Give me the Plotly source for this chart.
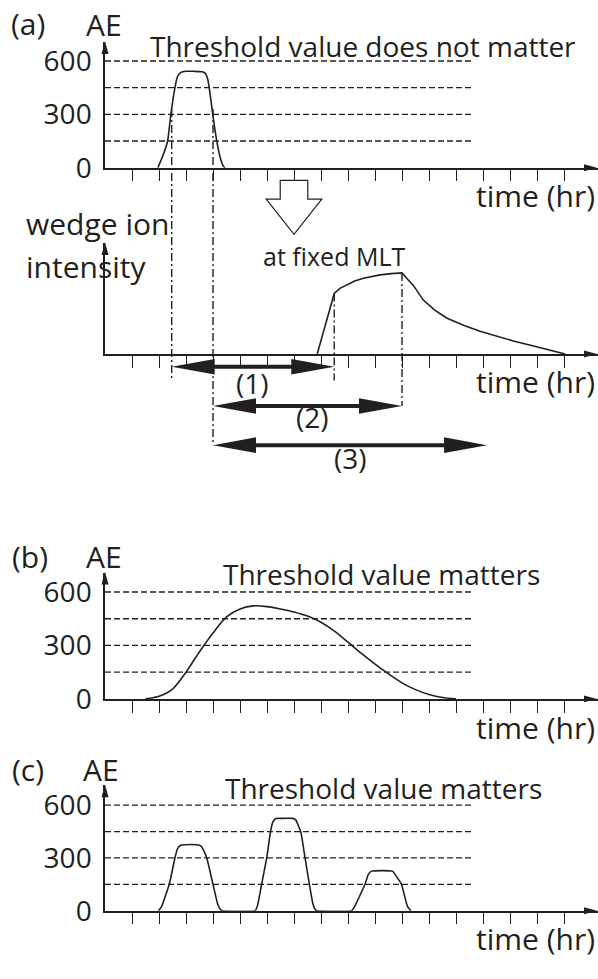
import plotly.graph_objects as go

# ---------------- data ----------------
time_ticks = list(range(1, 18))          # tick marks on every time axis (hr)
threshold_levels = [150, 300, 450, 600]  # dashed AE threshold lines
ae_tick_vals = [0, 300, 600]
threshold_end_hr = 13.57

# (a) isolated substorm AE
a_time = [1.96, 2.15, 2.32, 2.44, 2.59, 2.68, 2.80, 3.00, 3.30, 3.60, 3.72, 3.80, 3.86, 3.99, 4.14, 4.28, 4.37, 4.44]
a_ae = [0, 70, 150, 300, 450, 510, 535, 542, 542, 540, 530, 500, 450, 300, 150, 50, 12, 0]

# (a) wedge ion intensity at fixed MLT (arbitrary units)
wedge_time = [7.86, 8.49, 8.70, 8.95, 9.25, 9.57, 9.90, 10.19, 10.60, 11.00, 11.20, 11.42, 11.79, 12.20,
              12.65, 13.30, 13.89, 14.50, 15.12, 15.80, 16.36, 16.70, 17.04]
wedge_int = [0, 61.7, 67.0, 70.7, 74.5, 77.3, 79.2, 80.7, 82.0, 82.7, 76.5, 70.0, 55.0, 45.0,
             36.7, 29.0, 23.3, 18.0, 13.3, 8.7, 5.0, 2.5, 0]

# (b) long smooth AE event
b_time = [1.5, 2.0, 2.5, 3.0, 3.5, 4.0, 4.5, 5.0, 5.5, 6.0, 6.5, 7.0, 7.5, 8.0, 8.5, 9.0, 9.5,
          10.0, 10.5, 11.0, 11.5, 12.0, 12.5, 13.0]
b_ae = [0, 15, 55, 150, 265, 370, 460, 505, 522, 518, 505, 488, 465, 430, 380, 318, 255,
        195, 140, 90, 52, 25, 8, 0]

# (c) three short AE pulses
c_time = [1.98, 2.10, 2.38, 2.59, 2.68, 2.80, 2.95, 3.40, 3.55, 3.66, 3.77, 4.00, 4.17, 4.27, 4.35,
          5.56, 5.65, 5.80, 5.99, 6.13, 6.22, 6.33, 6.50, 6.95, 7.07, 7.17, 7.25, 7.41, 7.57, 7.70, 7.78, 7.86,
          9.14, 9.25, 9.63, 9.75, 9.87, 10.65, 10.75, 10.98, 11.20, 11.33]
c_ae = [0, 25, 150, 300, 350, 372, 375, 375, 368, 340, 300, 150, 40, 8, 0,
        0, 30, 150, 300, 450, 505, 524, 525, 525, 515, 480, 450, 300, 150, 40, 8, 0,
        0, 25, 150, 205, 225, 225, 205, 150, 25, 0]

# dash-dot markers: (hr, value on its panel)
onset_ae_hr, end_ae_hr = 2.47, 4.0
wedge_onset_hr, wedge_peak_hr = 8.49, 11.0
marker_ae_value = 330

# delay arrows
delay_labels = ["(1)", "(2)", "(3)"]
delay_start = [2.47, 4.0, 4.0]
delay_end = [8.49, 11.0, 14.15]

# ---------------- layout geometry ----------------
W, H = 598, 979
X0, HR = 105, 27.0           # pixel of t=0 and pixels per hour
INK = "#231F20"
FONT = "Open Sans"

panels = {
    "a": dict(ax="", base=170.0, tip=42.0, per=27.2 / 150),
    "w": dict(ax="2", base=360.0, tip=247.0, per=1.0),
    "b": dict(ax="3", base=711.7, tip=583.0, per=27.25 / 150),
    "c": dict(ax="4", base=927.7, tip=800.0, per=26.9 / 150),
}


def py(px):
    return 1 - px / H


def pxp(px):
    return px / W


def val_px(panel, v):
    p = panels[panel]
    return p["base"] - v * p["per"]


fig = go.Figure()
layout = dict(width=W, height=H, margin=dict(l=0, r=0, t=0, b=0), showlegend=False,
              paper_bgcolor="white", plot_bgcolor="rgba(0,0,0,0)")

for key, p in panels.items():
    ax = p["ax"]
    xa = dict(domain=[X0 / W, 1], range=[0, (W - X0) / HR], anchor="y" + ax,
              showline=True, linecolor=INK, linewidth=1.5, ticks="outside", ticklen=12,
              tickwidth=1.4, tickcolor=INK, tickmode="array", tickvals=time_ticks,
              showticklabels=False, showgrid=False, zeroline=False, fixedrange=True)
    if ax:
        xa["matches"] = "x"
    ya = dict(domain=[py(p["base"]), py(p["tip"])], range=[0, (p["base"] - p["tip"]) / p["per"]],
              anchor="x" + ax, showline=True, linecolor=INK, linewidth=1.5, ticks="",
              showgrid=False, zeroline=False, fixedrange=True)
    if key == "w":
        ya.update(showticklabels=False)
    else:
        ya.update(tickmode="array", tickvals=ae_tick_vals, showticklabels=True,
                  tickfont=dict(family=FONT, size=28, color=INK), ticklabelstandoff=6)
    layout["xaxis" + ax] = xa
    layout["yaxis" + ax] = ya

fig.update_layout(**layout)


def add_line(x, y, panel, **kw):
    ax = panels[panel]["ax"]
    fig.add_trace(go.Scatter(x=x, y=y, xaxis="x" + ax, yaxis="y" + ax, mode="lines",
                             hoverinfo="skip", **kw))


# threshold dashed lines
for panel in ["a", "b", "c"]:
    for lvl in threshold_levels:
        add_line([0, threshold_end_hr], [lvl, lvl], panel,
                 line=dict(color=INK, width=1.3, dash="6px,3px"))

add_line(a_time, a_ae, "a", line=dict(color=INK, width=1.6, shape="spline", smoothing=0.4))
add_line(wedge_time, wedge_int, "w", line=dict(color=INK, width=1.6))
add_line(b_time, b_ae, "b", line=dict(color=INK, width=1.6, shape="spline", smoothing=0.8))
add_line(c_time, c_ae, "c", line=dict(color=INK, width=1.6, shape="spline", smoothing=0.4))

shapes = []

# axis arrowheads
for key, p in panels.items():
    tip, base = p["tip"], p["base"]
    shapes.append(dict(type="path", xref="paper", yref="paper",
                       path=f"M {pxp(X0)},{py(tip - 1)} L {pxp(X0 - 3.5)},{py(tip + 12)} "
                            f"L {pxp(X0 + 3.5)},{py(tip + 12)} Z",
                       fillcolor=INK, line=dict(width=0)))
    shapes.append(dict(type="path", xref="paper", yref="paper",
                       path=f"M {pxp(597)},{py(base)} L {pxp(584)},{py(base - 3.5)} "
                            f"L {pxp(584)},{py(base + 3.5)} Z",
                       fillcolor=INK, line=dict(width=0)))

# dash-dot verticals
dd = dict(color=INK, width=1.4, dash="8px,3px,2px,3px")
vert = [
    (onset_ae_hr, val_px("a", marker_ae_value), 387),
    (end_ae_hr, val_px("a", marker_ae_value), 453),
    (wedge_onset_hr, val_px("w", wedge_int[1]), 387),
    (wedge_peak_hr, val_px("w", max(wedge_int)), 413),
]
for hr, top, bot in vert:
    shapes.append(dict(type="line", xref="x", yref="paper", x0=hr, x1=hr,
                       y0=py(top), y1=py(bot), line=dd))

# delay double arrows
arrow_y_px = [373, 413, 453]
head_len = 43 / HR
head_half = 8.0
for s, e, ypx in zip(delay_start, delay_end, arrow_y_px):
    shapes.append(dict(type="line", xref="x", yref="paper", x0=s + 0.5, x1=e - 0.5,
                       y0=py(ypx), y1=py(ypx), line=dict(color=INK, width=4)))
    for tip, d in [(s, 1), (e, -1)]:
        b = tip + d * head_len
        shapes.append(dict(type="path", xref="x", yref="paper",
                           path=f"M {tip},{py(ypx)} L {b},{py(ypx - head_half)} L {b},{py(ypx + head_half)} Z",
                           fillcolor=INK, line=dict(width=0)))

# hollow "maps to" arrow
hc = 7.0
shaft_w, head_w = 0.51, 1.03
top, mid, tipy = 183, 202, 238
shapes.append(dict(type="path", xref="x", yref="paper",
                   path=(f"M {hc - shaft_w},{py(top)} L {hc - shaft_w},{py(mid)} L {hc - head_w},{py(mid)} "
                         f"L {hc},{py(tipy)} L {hc + head_w},{py(mid)} L {hc + shaft_w},{py(mid)} "
                         f"L {hc + shaft_w},{py(top)} Z"),
                   fillcolor="white", line=dict(color=INK, width=1.2)))

fig.update_layout(shapes=shapes)


def label(text, x_px, base_px, size, xanchor="left"):
    center = base_px - 0.39 * size
    fig.add_annotation(text=text, x=pxp(x_px), y=py(center), xref="paper", yref="paper",
                       xanchor=xanchor, yanchor="middle", showarrow=False, borderpad=0,
                       font=dict(family=FONT, size=size, color=INK))


label("(a)", 27.5, 35, 30, "center")
label("AE", 103.5, 36, 30, "center")
label("Threshold value does not matter", 149, 57, 28)
label("time (hr)", 596, 210, 30, "right")
label("wedge ion", 25, 239, 30)
label("intensity", 25, 282, 30)
label("at fixed MLT", 262, 270, 25)
label("time (hr)", 596, 400, 30, "right")
for txt, cx, b in zip(delay_labels, [252.5, 312.5, 350.5], [400, 435, 477]):
    label(txt, cx, b, 28, "center")

label("(b)", 29.5, 578, 30, "center")
label("AE", 103.5, 578, 30, "center")
label("Threshold value matters", 222, 595, 28)
label("time (hr)", 596, 753, 30, "right")

label("(c)", 27.5, 795, 30, "center")
label("AE", 101, 795, 30, "center")
label("Threshold value matters", 224, 813, 28)
label("time (hr)", 596, 968, 30, "right")

fig.write_html("out.html", config={"displayModeBar": False},
               post_script="document.body.style.margin='0px';"
                           "document.documentElement.style.overflow='hidden';")
